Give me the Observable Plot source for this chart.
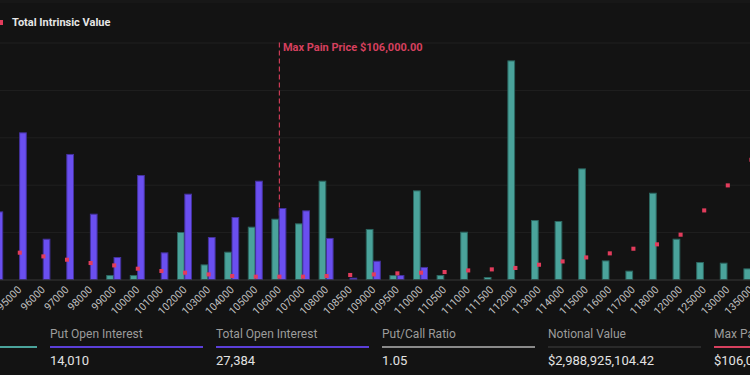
<!DOCTYPE html>
<html>
<head>
<meta charset="utf-8">
<script src="https://cdn.jsdelivr.net/npm/d3@7"></script>
<script src="https://cdn.jsdelivr.net/npm/@observablehq/plot@0.6"></script>
<style>
  html, body { margin: 0; padding: 0; background: #131313; }
  body { width: 750px; height: 375px; overflow: hidden; position: relative; font-family: Roboto, "Noto Sans", sans-serif; }
  #topline { position: absolute; left: 0; top: 0; width: 750px; height: 3px; background: #171717; }
  #legend { position: absolute; left: 0; top: 14px; height: 16px; display: flex; align-items: center; }
  #legend .sw { width: 5px; height: 5px; background: #e23c5c; margin-left: -2px; margin-right: 9px; }
  #legend .lb { color: #e6e6e6; font-size: 11px; font-weight: bold; }
  #chart { position: absolute; left: 0; top: 0; }
  .stat { position: absolute; top: 326px; width: 153px; }
  .stat .lab { color: #9c9c9c; font-size: 12px; height: 17px; line-height: 17px; }
  .stat .bar { height: 2px; margin-top: 3px; }
  .stat .val { color: #e2e2e2; font-size: 13px; margin-top: 4px; line-height: 18px; }
</style>
</head>
<body>
<div id="topline"></div>
<div id="chart"></div>
<div id="legend"><div class="sw"></div><div class="lb">Total Intrinsic Value</div></div>
<div id="stats"></div>
<script>
const strikes = ["94000","95000","96000","97000","98000","99000","100000","101000","102000","103000","104000","105000","106000","107000","108000","108500","109000","109500","110000","110500","111000","111500","112000","113000","114000","115000","116000","117000","118000","120000","125000","130000","135000"];
const callOI = [0,0,0,0,0,42,42,0,496,154,288,552,636,587,1037,0,528,42,935,42,499,21,2306,622,612,1167,196,88,910,425,179,172,112];
const putOI = [713,1547,425,1319,689,232,1097,281,900,443,654,1037,749,724,433,14,193,42,127,0,0,0,0,0,0,0,0,0,0,0,0,0,0];
const intrinsic = [null,288,249,214,179,154,119,95,77,59,42,35,35,35,42,53,59,70,77,84,101,112,127,161,196,238,281,330,376,478,734,998,1269];
const yTicks = [0,500,1000,1500,2000,2500];
const maxPainStrike = "106000";
const maxPainLabel = "Max Pain Price $106,000.00";

const statLabels = ["Call Open Interest","Put Open Interest","Total Open Interest","Put/Call Ratio","Notional Value","Max Pain Price"];
const statValues = ["13,374","14,010","27,384","1.05","$2,988,925,104.42","$106,000.00"];
const statColors = ["#4aa39b","#5b3fd8","#5b3fd8","#8a8a8a","#2a2a2a","#d6405e"];

const rows = strikes.map((s, i) => ({strike: s, call: callOI[i], put: putOI[i], iv: intrinsic[i]}));

const step = 23.6;
const c0 = 19.3 - step; // center of first (partially hidden) band
const half = step / 2;

const chart = Plot.plot({
  width: 750,
  height: 320,
  marginTop: 42.5, marginBottom: 40.5, marginLeft: 0, marginRight: 0,
  style: {background: "transparent", color: "#bdbdbd", fontFamily: "Roboto, sans-serif", overflow: "hidden"},
  x: {type: "band", domain: strikes, padding: 0, align: 0, round: false, range: [c0 - half, c0 - half + strikes.length * step]},
  y: {domain: [0, 2500], axis: null},
  marks: [
    Plot.gridY(yTicks.slice(1), {stroke: "#ffffff", strokeOpacity: 0.055}),
    Plot.ruleX([maxPainStrike], {x: d => d, y1: 2500, y2: 0, stroke: "#c93a55", strokeWidth: 1.2, strokeDasharray: "5,3"}),
    Plot.barY(rows, {filter: d => d.call > 0, x: "strike", y: "call", fill: "#4aa39b", stroke: "#2b6660", strokeWidth: 1, insetLeft: half - 7, insetRight: half + 0.3}),
    Plot.barY(rows, {filter: d => d.put > 0, x: "strike", y: "put", fill: "#6a4ff0", stroke: "#43319c", strokeWidth: 1, insetLeft: half + 0.3, insetRight: half - 7}),
    Plot.ruleY([0], {stroke: "#383838"}),
    Plot.dot(rows, {filter: d => d.iv != null, x: "strike", y: "iv", symbol: "square", r: 2.3, fill: "#e23c5c", stroke: "none"}),
    Plot.text([maxPainLabel], {x: () => maxPainStrike, y: () => 2500, text: d => d, dx: 3.5, dy: 4, textAnchor: "start", fill: "#d6405e", fontWeight: "bold", fontSize: 11}),
    Plot.axisX({tickRotate: -45, tickSize: 0, tickPadding: 8, fontSize: 10.5, fill: "#c0c0c0", label: null})
  ]
});
document.getElementById("chart").appendChild(chart);

const stats = document.getElementById("stats");
const pitch = 166;
statLabels.forEach((lab, i) => {
  const d = document.createElement("div");
  d.className = "stat";
  d.style.left = (50 + (i - 1) * pitch) + "px";
  d.innerHTML = `<div class="lab">${lab}</div><div class="bar" style="background:${statColors[i]}"></div><div class="val">${statValues[i]}</div>`;
  stats.appendChild(d);
});
</script>
</body>
</html>
